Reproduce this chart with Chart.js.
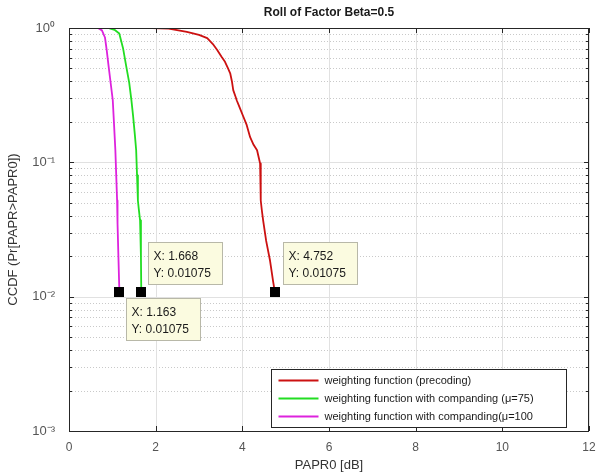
<!DOCTYPE html>
<html>
<head>
<meta charset="utf-8">
<script src="https://cdn.jsdelivr.net/npm/chart.js@4.4.1/dist/chart.umd.min.js"></script>
<style>
  body { margin: 0; background: #fff; }
  #wrap { width: 602px; height: 475px; }
</style>
</head>
<body>
<div id="wrap"><canvas id="ccdf"></canvas></div>
<script>
// series (x = PAPR0 in dB, y = CCDF)
const redX = [1.92, 2.3, 2.72, 3.0, 3.19, 3.32, 3.42, 3.52, 3.6, 3.67, 3.72, 3.76, 3.79, 3.84, 3.87, 3.93, 4.01, 4.1, 4.18, 4.26, 4.34, 4.41, 4.42, 4.43, 4.45, 4.48, 4.55, 4.64, 4.71, 4.752];
const redY = [1.0, 0.99, 0.935, 0.89, 0.84, 0.76, 0.685, 0.61, 0.56, 0.5, 0.46, 0.4, 0.345, 0.31, 0.29, 0.26, 0.224, 0.19, 0.154, 0.135, 0.123, 0.098, 0.075, 0.052, 0.044, 0.037, 0.026, 0.0185, 0.013, 0.01075];

const greenX = [0.9, 1.05, 1.16, 1.25, 1.32, 1.39, 1.44, 1.48, 1.52, 1.55, 1.57, 1.59, 1.61, 1.64, 1.66, 1.668];
const greenY = [1.0, 0.97, 0.91, 0.7, 0.52, 0.39, 0.29, 0.22, 0.16, 0.123, 0.08, 0.052, 0.045, 0.037, 0.02, 0.01075];

const magX = [0.67, 0.76, 0.83, 0.87, 0.92, 0.97, 1.01, 1.04, 1.07, 1.09, 1.11, 1.12, 1.14, 1.163];
const magY = [1.0, 0.96, 0.85, 0.685, 0.5, 0.37, 0.29, 0.19, 0.123, 0.08, 0.052, 0.035, 0.02, 0.01075];

const seriesLabels = [
  "weighting function (precoding)",
  "weighting function with companding (\u03bc=75)",
  "weighting function with companding(\u03bc=100"
];
const seriesColors = ["#cc1111", "#22dd22", "#dd22dd"];

const xTicks = [0, 2, 4, 6, 8, 10, 12];
const yDecades = [0.001, 0.01, 0.1, 1];
const yDecadeLabels = ["10\u207b\u00b3", "10\u207b\u00b2", "10\u207b\u00b9", "10\u2070"];

// data tips: [x, y, box left offset, box top offset] relative to the point
const tips = [
  [4.752, 0.01075, 8, -50],
  [1.668, 0.01075, 7, -50],
  [1.163, 0.01075, 7, 6]
];

const pts = (xs, ys) => xs.map((x, i) => ({ x: x, y: ys[i] }));

const matlabLook = {
  id: "matlabLook",
  beforeDatasetsDraw(chart) {
    const { ctx, chartArea: a, scales: { x, y } } = chart;
    ctx.save();
    ctx.lineWidth = 1;
    // minor dotted horizontal lines
    ctx.strokeStyle = "#c9c9c9";
    ctx.setLineDash([1, 2]);
    for (let d = 0; d < 3; d++) {
      const base = yDecades[d];
      for (let m = 2; m <= 9; m++) {
        const py = Math.round(y.getPixelForValue(base * m)) + 0.5;
        ctx.beginPath(); ctx.moveTo(a.left, py); ctx.lineTo(a.right, py); ctx.stroke();
      }
    }
    ctx.setLineDash([]);
    ctx.strokeStyle = "#e1e1e1";
    yDecades.forEach(v => {
      const py = Math.round(y.getPixelForValue(v)) + 0.5;
      ctx.beginPath(); ctx.moveTo(a.left, py); ctx.lineTo(a.right, py); ctx.stroke();
    });
    xTicks.forEach(v => {
      const px = Math.round(x.getPixelForValue(v)) + 0.5;
      ctx.beginPath(); ctx.moveTo(px, a.top); ctx.lineTo(px, a.bottom); ctx.stroke();
    });
    ctx.restore();
  },
  afterDatasetsDraw(chart) {
    const { ctx, chartArea: a, scales: { x, y } } = chart;
    ctx.save();
    // box and inward ticks
    ctx.strokeStyle = "#262626";
    ctx.lineWidth = 1;
    ctx.strokeRect(a.left + 0.5, a.top + 0.5, a.right - a.left - 1, a.bottom - a.top);
    xTicks.forEach(v => {
      const px = Math.round(x.getPixelForValue(v)) + 0.5;
      ctx.beginPath();
      ctx.moveTo(px, a.bottom); ctx.lineTo(px, a.bottom - 5);
      ctx.moveTo(px, a.top); ctx.lineTo(px, a.top + 5);
      ctx.stroke();
    });
    for (let d = 0; d < 4; d++) {
      for (let m = 1; m <= (d < 3 ? 9 : 1); m++) {
        const py = Math.round(y.getPixelForValue(yDecades[d] * m)) + 0.5;
        const len = m === 1 ? 5 : 3;
        ctx.beginPath();
        ctx.moveTo(a.left, py); ctx.lineTo(a.left + len, py);
        ctx.moveTo(a.right, py); ctx.lineTo(a.right - len, py);
        ctx.stroke();
      }
    }
    // title
    ctx.fillStyle = "#1a1a1a";
    ctx.font = "bold 12px 'Liberation Sans', Arial, sans-serif";
    ctx.textAlign = "center";
    ctx.textBaseline = "middle";
    ctx.fillText("Roll of Factor Beta=0.5", (a.left + a.right) / 2, 13);

    // data tips
    ctx.font = "12px 'Liberation Sans', Arial, sans-serif";
    ctx.textAlign = "left";
    ctx.textBaseline = "alphabetic";
    tips.forEach(t => {
      const px = x.getPixelForValue(t[0]);
      const py = y.getPixelForValue(t[1]);
      const bx = Math.round(px + t[2]) + 0.5;
      const by = Math.round(py + t[3]) + 0.5;
      ctx.fillStyle = "#fbfbe0";
      ctx.fillRect(bx, by, 74, 42);
      ctx.strokeStyle = "#b8b8a8";
      ctx.strokeRect(bx, by, 74, 42);
      ctx.fillStyle = "#1a1a1a";
      ctx.fillText("X: " + t[0], bx + 5, by + 17);
      ctx.fillText("Y: " + t[1], bx + 5, by + 34);
    });
    // markers
    ctx.fillStyle = "#000";
    tips.forEach(t => {
      const px = x.getPixelForValue(t[0]);
      const py = y.getPixelForValue(t[1]);
      ctx.fillRect(Math.round(px) - 5, Math.round(py) - 5, 10, 10);
    });

    // legend inside lower right
    const lx = 271.5, ly = 369.5, lw = 295, lh = 58;
    ctx.fillStyle = "#fff";
    ctx.fillRect(lx, ly, lw, lh);
    ctx.strokeStyle = "#262626";
    ctx.strokeRect(lx, ly, lw, lh);
    ctx.font = "11px 'Liberation Sans', Arial, sans-serif";
    ctx.textBaseline = "middle";
    chart.data.datasets.forEach((ds, i) => {
      const cy = ly + 11 + i * 18;
      ctx.strokeStyle = ds.borderColor;
      ctx.lineWidth = 2;
      ctx.beginPath(); ctx.moveTo(lx + 7, cy); ctx.lineTo(lx + 47, cy); ctx.stroke();
      ctx.fillStyle = "#1a1a1a";
      ctx.fillText(ds.label, lx + 53, cy);
    });
    ctx.restore();
  }
};

new Chart(document.getElementById("ccdf"), {
  type: "line",
  data: {
    datasets: [
      { label: seriesLabels[0], data: pts(redX, redY), borderColor: seriesColors[0] },
      { label: seriesLabels[1], data: pts(greenX, greenY), borderColor: seriesColors[1] },
      { label: seriesLabels[2], data: pts(magX, magY), borderColor: seriesColors[2] }
    ]
  },
  options: {
    responsive: true,
    maintainAspectRatio: false,
    animation: false,
    layout: { padding: { top: 28, right: 13, left: 0, bottom: 0 } },
    elements: {
      line: { borderWidth: 1.8, tension: 0, borderJoinStyle: "round", borderCapStyle: "round" },
      point: { radius: 0 }
    },
    plugins: { legend: { display: false }, tooltip: { enabled: false } },
    scales: {
      x: {
        type: "linear",
        min: 0, max: 12,
        grid: { display: false },
        border: { display: false },
        afterBuildTicks: s => { s.ticks = xTicks.map(v => ({ value: v })); },
        afterFit: s => { s.height = 44; },
        ticks: { padding: 1, color: "#555", font: { size: 12, family: "'Liberation Sans', Arial, sans-serif" } },
        title: { display: true, text: "PAPR0 [dB]", color: "#333", padding: { top: 0, bottom: 2 },
                 font: { size: 13, family: "'Liberation Sans', Arial, sans-serif" } }
      },
      y: {
        type: "logarithmic",
        min: 0.001, max: 1,
        grid: { display: false },
        border: { display: false },
        afterBuildTicks: s => { s.ticks = yDecades.map(v => ({ value: v })); },
        afterFit: s => { s.width = 69; },
        ticks: {
          padding: 6, color: "#555",
          font: { size: 13, family: "'Liberation Sans', Arial, sans-serif" },
          callback: v => yDecadeLabels[yDecades.indexOf(v)] ?? ""
        },
        title: { display: true, text: "CCDF (Pr[PAPR>PAPR0])", color: "#333", padding: { top: 6, bottom: 0 },
                 font: { size: 13, family: "'Liberation Sans', Arial, sans-serif" } }
      }
    }
  },
  plugins: [matlabLook]
});
</script>
</body>
</html>
